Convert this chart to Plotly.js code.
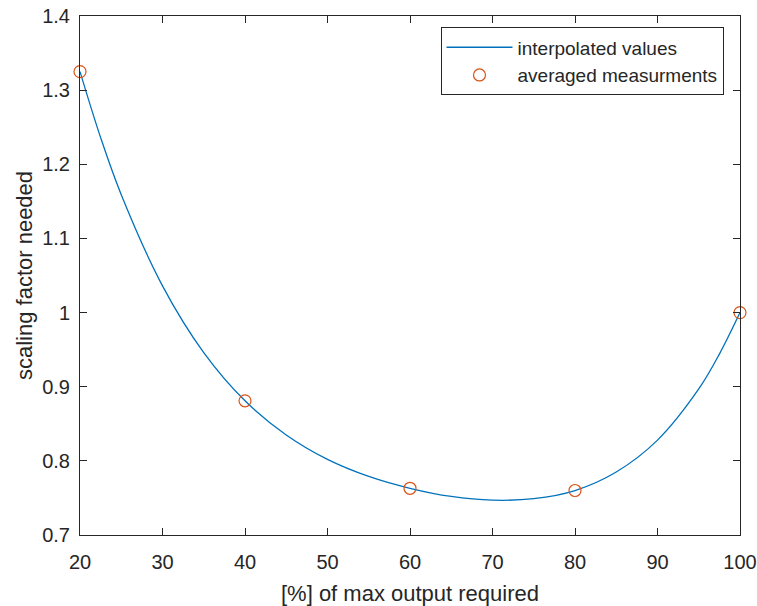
<!DOCTYPE html>
<html>
<head>
<meta charset="utf-8">
<script src="https://cdn.plot.ly/plotly-3.0.1.min.js"></script>
<style>html,body{margin:0;padding:0;background:#fff;}#chart{width:757px;height:606px;}</style>
</head>
<body>
<div id="chart"></div>
<script>
// Measured points (averaged measurements)
const measX = [20, 40, 60, 80, 100];
const measY = [1.325, 0.881, 0.763, 0.760, 1.000];

// Interpolated curve
const curveX = [20, 22.5, 25, 30, 35, 40, 45, 50, 55, 60, 65, 70, 75, 80, 85, 90, 95, 97.5, 100];
const curveY = [1.325, 1.236, 1.159, 1.036, 0.946, 0.881, 0.835, 0.802, 0.779, 0.763, 0.752, 0.747, 0.749, 0.760, 0.785, 0.828, 0.897, 0.944, 1.000];

const xTicks = [20, 30, 40, 50, 60, 70, 80, 90, 100];
const yTicks = [0.7, 0.8, 0.9, 1.0, 1.1, 1.2, 1.3, 1.4];
const yTickText = ['0.7', '0.8', '0.9', '1', '1.1', '1.2', '1.3', '1.4'];

const FONT = 'Liberation Sans, Arial, Helvetica, sans-serif';
const AX = '#262626';

const traces = [
  {
    x: curveX, y: curveY, type: 'scatter', mode: 'lines',
    name: 'interpolated values',
    line: {color: '#0072BD', width: 1.3, shape: 'spline', smoothing: 1}
  },
  {
    x: measX, y: measY, type: 'scatter', mode: 'markers',
    name: 'averaged measurments',
    marker: {symbol: 'circle-open', size: 12, color: '#D95319', line: {color: '#D95319', width: 1.2}},
    cliponaxis: false
  }
];

const axisCommon = {
  showgrid: false, zeroline: false,
  showline: true, linecolor: AX, linewidth: 1, mirror: 'ticks',
  ticks: 'inside', ticklen: 7, tickcolor: AX, tickwidth: 1,
  tickfont: {family: FONT, size: 20, color: AX}
};

const layout = {
  width: 757, height: 606,
  margin: {l: 80, r: 17, t: 16, b: 71},
  paper_bgcolor: '#fff', plot_bgcolor: '#fff',
  font: {family: FONT, color: AX},
  showlegend: true,
  xaxis: Object.assign({}, axisCommon, {
    range: [20, 100], tickvals: xTicks, ticktext: xTicks.map(String),
    ticklabelstandoff: 9,
    title: {text: '[%] of max output required', font: {family: FONT, size: 22, color: AX}, standoff: 14}
  }),
  yaxis: Object.assign({}, axisCommon, {
    range: [0.7, 1.4], tickvals: yTicks, ticktext: yTickText,
    ticklabelstandoff: 5,
    title: {text: 'scaling factor needed', font: {family: FONT, size: 22, color: AX}, standoff: 3}
  }),
  legend: {
    x: 0.975, y: 0.978, xanchor: 'right', yanchor: 'top',
    bgcolor: '#fff', bordercolor: AX, borderwidth: 1,
    font: {family: FONT, size: 19, color: AX},
    itemwidth: 66, tracegroupgap: 0
  }
};

Plotly.newPlot('chart', traces, layout, {displayModeBar: false, staticPlot: true});
</script>
</body>
</html>
